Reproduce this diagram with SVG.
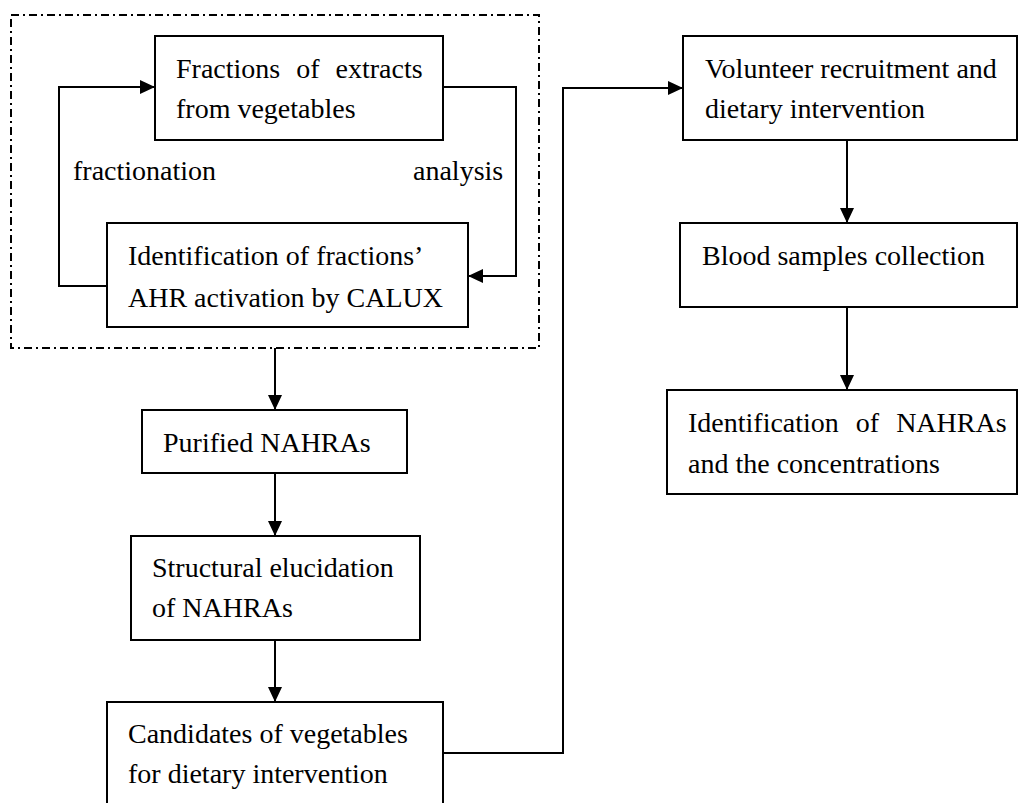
<svg xmlns="http://www.w3.org/2000/svg" width="1018" height="803" viewBox="0 0 1018 803">
<style>
.box{fill:#fff;stroke:#000;stroke-width:2}
.lbl{font-family:"Liberation Serif","Times New Roman",serif;font-size:28px;fill:#000}
.con{fill:none;stroke:#000;stroke-width:2}
.frame{fill:none;stroke:#000;stroke-width:2;stroke-dasharray:8 4 2 4}
</style>
<defs>
<marker id="arr" markerUnits="userSpaceOnUse" markerWidth="15" markerHeight="14" refX="15" refY="7" orient="auto">
<path d="M0,0 L15,7 L0,14 z" fill="#000"/>
</marker>
</defs>
<rect id="group-frame" class="frame" x="11" y="15" width="528" height="333"/>
<g id="connectors">
<polyline class="con" points="107,286 59,286 59,87 155,87" marker-end="url(#arr)"/>
<polyline class="con" points="443,87 516,87 516,276 468,276" marker-end="url(#arr)"/>
<line class="con" x1="275" y1="348" x2="275" y2="410" marker-end="url(#arr)"/>
<line class="con" x1="275" y1="473" x2="275" y2="536" marker-end="url(#arr)"/>
<line class="con" x1="275" y1="640" x2="275" y2="702" marker-end="url(#arr)"/>
<polyline class="con" points="443,753 563,753 563,88 683,88" marker-end="url(#arr)"/>
<line class="con" x1="847" y1="140" x2="847" y2="223" marker-end="url(#arr)"/>
<line class="con" x1="847" y1="307" x2="847" y2="390" marker-end="url(#arr)"/>
<text class="lbl" x="73" y="180">fractionation</text>
<text class="lbl" x="413" y="180">analysis</text>
</g>
<g id="fractions">
<rect class="box" x="155" y="36" width="288" height="104"/>
<text class="lbl" x="176" y="78" word-spacing="9">Fractions of extracts</text>
<text class="lbl" x="176" y="118">from vegetables</text>
</g>
<g id="identification-calux">
<rect class="box" x="107" y="223" width="361" height="104"/>
<text class="lbl" x="128" y="265">Identification of fractions’</text>
<text class="lbl" x="128" y="307">AHR activation by CALUX</text>
</g>
<g id="purified">
<rect class="box" x="142" y="410" width="265" height="63"/>
<text class="lbl" x="163" y="452">Purified NAHRAs</text>
</g>
<g id="structural">
<rect class="box" x="131" y="536" width="289" height="104"/>
<text class="lbl" x="152" y="577">Structural elucidation</text>
<text class="lbl" x="152" y="617">of NAHRAs</text>
</g>
<g id="candidates">
<rect class="box" x="107" y="702" width="336" height="110"/>
<text class="lbl" x="128" y="743">Candidates of vegetables</text>
<text class="lbl" x="128" y="783">for dietary intervention</text>
</g>
<g id="volunteer">
<rect class="box" x="683" y="36" width="334" height="104"/>
<text class="lbl" x="705" y="78">Volunteer recruitment and</text>
<text class="lbl" x="705" y="118">dietary intervention</text>
</g>
<g id="blood">
<rect class="box" x="680" y="223" width="337" height="84"/>
<text class="lbl" x="702" y="265">Blood samples collection</text>
</g>
<g id="identification-nahras">
<rect class="box" x="667" y="390" width="350" height="104"/>
<text class="lbl" x="688" y="432" word-spacing="10">Identification of NAHRAs</text>
<text class="lbl" x="688" y="473">and the concentrations</text>
</g>
</svg>
